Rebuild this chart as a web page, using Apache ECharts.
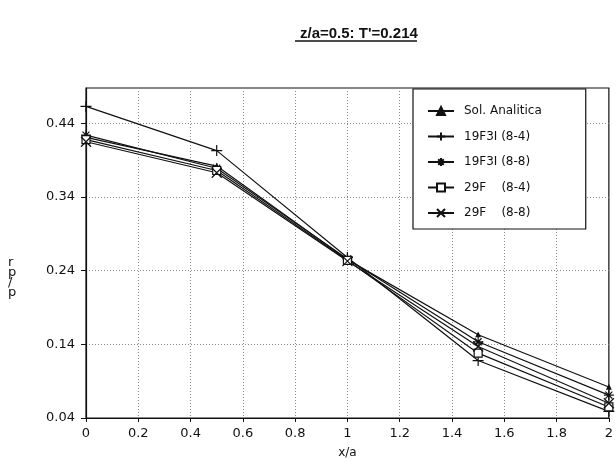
<!DOCTYPE html>
<html><head><meta charset="utf-8">
<script src="https://cdn.jsdelivr.net/npm/echarts@6/dist/echarts.min.js"></script>
<style>html,body{margin:0;padding:0;background:#fff}#c{width:616px;height:466px}</style>
</head><body><div id="c"></div>
<script>
const xValues = [0, 0.5, 1, 1.5, 2];
const seriesNames = ['Sol. Analitica', '19F3I (8-4)', '19F3I (8-8)', '29F    (8-4)', '29F    (8-8)'];
const solAnalitica = [0.421, 0.382, 0.255, 0.153, 0.082];
const f19_84 = [0.463, 0.403, 0.258, 0.118, 0.049];
const f19_88 = [0.424, 0.379, 0.256, 0.1435, 0.071];
const f29_84 = [0.418, 0.376, 0.254, 0.128, 0.055];
const f29_88 = [0.415, 0.373, 0.253, 0.137, 0.060];
const yTicks = [0.04, 0.14, 0.24, 0.34, 0.44];
const xTicks = [0, 0.2, 0.4, 0.6, 0.8, 1, 1.2, 1.4, 1.6, 1.8, 2];

const FONT = 'DejaVu Sans';
const symbols = [
  'triangle',
  'path://M0,-1 L0,1 M-1,0 L1,0',
  'path://M0,-1 L0,1 M-1,0 L1,0 M-0.7,-0.7 L0.7,0.7 M-0.7,0.7 L0.7,-0.7',
  'rect',
  'path://M-1,-1 L1,1 M-1,1 L1,-1'
];
const sizes = [4, 11, 10, 8, 10];
const allData = [solAnalitica, f19_84, f19_88, f29_84, f29_88];

const series = allData.map((arr, i) => ({
  name: seriesNames[i],
  type: 'line',
  data: arr.map((v, j) => [xValues[j], v]),
  symbol: symbols[i],
  symbolSize: sizes[i],
  showAllSymbol: true,
  lineStyle: { color: '#111', width: 1.2 },
  itemStyle: i === 3 ? { color: '#fff', borderColor: '#111', borderWidth: 1.2 }
                     : { color: '#111', borderColor: '#111', borderWidth: 1.2 },
  emphasis: { disabled: true },
  animation: false
}));

const chart = echarts.init(document.getElementById('c'));
chart.setOption({
  backgroundColor: '#fff',
  animation: false,
  title: {
    text: "z/a=0.5: T'=0.214",
    left: 295, top: 21,
    textStyle: { fontFamily: 'Liberation Sans', fontSize: 15, fontWeight: 'bold', color: '#111' }
  },
  grid: { left: 86, right: 5, top: 88, bottom: 48, show: true, borderColor: '#111', borderWidth: 1.2, backgroundColor: 'transparent' },
  legend: {
    orient: 'vertical',
    left: 413, top: 89,
    padding: [16, 44, 10, 14],
    itemWidth: 26, itemHeight: 10,
    itemGap: 13.5,
    backgroundColor: '#fff',
    borderColor: '#111', borderWidth: 1.2,
    textStyle: { fontFamily: FONT, fontSize: 12, color: '#111', padding: [0, 0, 0, 5] },
    data: seriesNames,
    selectedMode: false
  },
  xAxis: {
    type: 'value', min: 0, max: 2, interval: 0.2,
    name: 'x/a', nameLocation: 'middle', nameGap: 29,
    nameTextStyle: { fontFamily: FONT, fontSize: 12, color: '#111' },
    axisLine: { show: true, lineStyle: { color: '#111', width: 1.2 } },
    axisTick: { show: true, length: 4, inside: false, lineStyle: { color: '#111' } },
    axisLabel: { fontFamily: FONT, fontSize: 13, color: '#111', margin: 9,
      formatter: v => String(Math.round(v * 10) / 10) },
    splitLine: { show: true, lineStyle: { color: '#888', type: [1, 2], width: 1 } }
  },
  yAxis: {
    type: 'value', min: 0.04, max: 0.488,
    axisLine: { show: true, lineStyle: { color: '#111', width: 1.2 } },
    axisTick: { show: true, length: 5, customValues: yTicks, lineStyle: { color: '#111' } },
    axisLabel: { fontFamily: FONT, fontSize: 13, color: '#111', margin: 11, customValues: yTicks,
      formatter: v => v.toFixed(2) },
    splitLine: { show: true, lineStyle: { color: '#888', type: [1, 2], width: 1 } }
  },
  graphic: [
    { type: 'line', shape: { x1: 295, y1: 41, x2: 417, y2: 41 }, style: { stroke: '#111', lineWidth: 1.5 } },
    { type: 'text', left: 8, top: 256, style: { text: 'r\np\n/\np', fontFamily: FONT, fontSize: 13, fill: '#111', lineHeight: 10, align: 'center' } }
  ],
  series: series
});
</script>
</body></html>
